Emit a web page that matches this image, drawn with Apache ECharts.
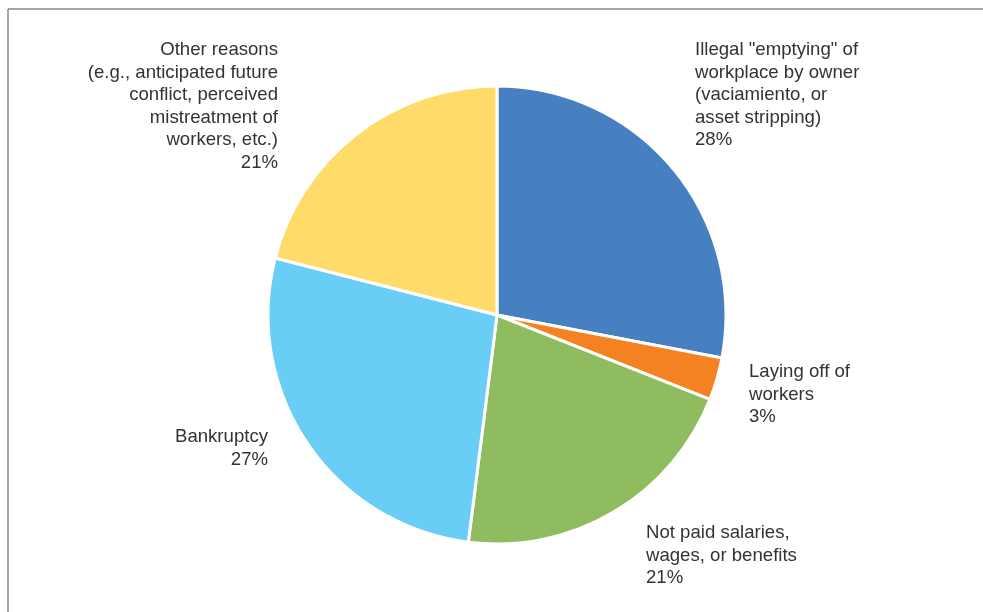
<!DOCTYPE html>
<html><head><meta charset="utf-8">
<script src="https://cdn.jsdelivr.net/npm/echarts@6/dist/echarts.min.js"></script>
<style>html,body{margin:0;padding:0;background:#fff}#c{width:983px;height:612px}</style>
</head><body><div id="c"></div>
<script>
const categories = [
  'Illegal "emptying" of\nworkplace by owner\n(vaciamiento, or\nasset stripping)',
  'Laying off of\nworkers',
  'Not paid salaries,\nwages, or benefits',
  'Bankruptcy',
  'Other reasons\n(e.g., anticipated future\nconflict, perceived\nmistreatment of\nworkers, etc.)'
];
const values = [28, 3, 21, 27, 21];
const colors = ['#4780C0', '#F58220', '#8FBC5F', '#6ACDF5', '#FFDC6A'];
const labelAnchors = [
  {x: 695, y: 39, align: 'left'},
  {x: 749, y: 361, align: 'left'},
  {x: 646, y: 522, align: 'left'},
  {x: 268, y: 426, align: 'right'},
  {x: 278, y: 39, align: 'right'}
];

const chart = echarts.init(document.getElementById('c'), null, {renderer: 'canvas'});
chart.setOption({
  backgroundColor: '#fff',
  animation: false,
  graphic: [
    {type: 'line', shape: {x1: 8, y1: 9, x2: 983, y2: 9}, style: {stroke: '#8a8a8a', lineWidth: 1.5}},
    {type: 'line', shape: {x1: 8, y1: 9, x2: 8, y2: 612}, style: {stroke: '#8a8a8a', lineWidth: 1.5}}
  ],
  series: [{
    type: 'pie',
    center: [497, 315],
    radius: [0, 229],
    startAngle: 90,
    clockwise: true,
    data: categories.map((n, i) => ({name: n, value: values[i], itemStyle: {color: colors[i]}})),
    itemStyle: {borderColor: '#fff', borderWidth: 3},
    label: {
      show: true,
      formatter: p => p.name + '\n' + p.value + '%',
      fontFamily: 'Liberation Sans',
      fontSize: 18.6,
      lineHeight: 22.5,
      color: '#333333'
    },
    labelLine: {show: false},
    labelLayout: p => ({
      x: labelAnchors[p.dataIndex].x,
      y: labelAnchors[p.dataIndex].y,
      align: labelAnchors[p.dataIndex].align,
      verticalAlign: 'top'
    })
  }]
});
</script></body></html>
